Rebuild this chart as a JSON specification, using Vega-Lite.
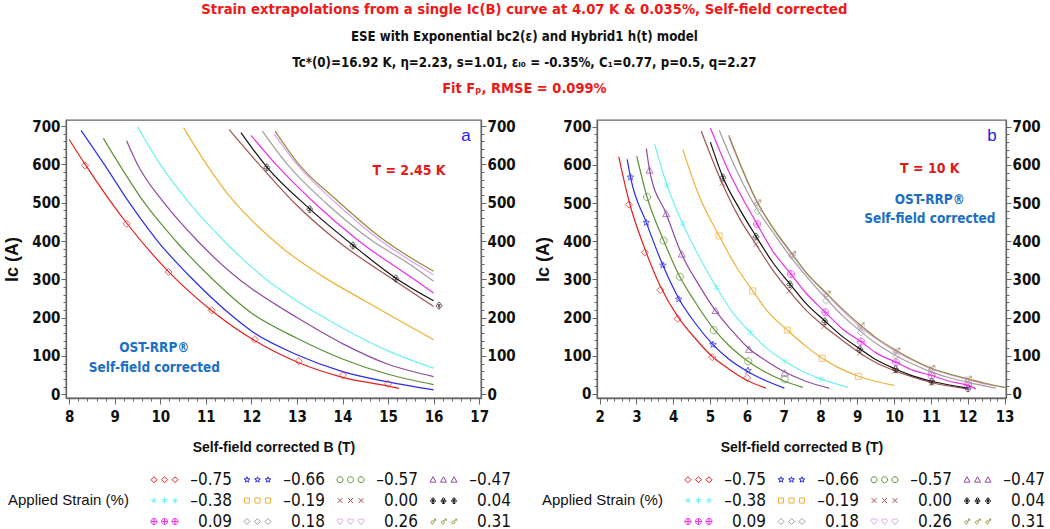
{
  "$schema": "https://vega.github.io/schema/vega-lite/v6.json",
  "background": "white",
  "padding": {"left": 3, "right": 3, "top": 2, "bottom": 0},
  "title": {
    "text": "Strain extrapolations from a single Ic(B) curve at 4.07 K & 0.035%, Self-field corrected",
    "subtitle": ["ESE with Exponential bc2(ε) and Hybrid1 h(t) model", "Tc*(0)=16.92 K, η=2.23, s=1.01, εₗ₀ = -0.35%, C₁=0.77, p=0.5, q=2.27"],
    "color": "#f01818", "subtitleColor": "#111111",
    "font": "'DejaVu Sans Condensed', sans-serif",
    "subtitleFont": "'DejaVu Sans Condensed', sans-serif",
    "fontSize": 14.7, "subtitleFontSize": 13.2, "fontWeight": "bold", "subtitleFontWeight": "bold",
    "anchor": "middle", "frame": "bounds", "subtitlePadding": 14, "subtitleLineHeight": 26, "offset": 12
  },
  "datasets": {
    "leg": [{"strain": "-0.75"},{"strain": "-0.66"},{"strain": "-0.57"},{"strain": "-0.47"},{"strain": "-0.38"},{"strain": "-0.19"},{"strain": "0.00"},{"strain": "0.04"},{"strain": "0.09"},{"strain": "0.18"},{"strain": "0.26"},{"strain": "0.31"}],
    "aL": [
      {"strain":"-0.75","B":8.0,"Ic":665},{"strain":"-0.75","B":8.35,"Ic":600},{"strain":"-0.75","B":9.26,"Ic":447},{"strain":"-0.75","B":10.18,"Ic":320},{"strain":"-0.75","B":11.13,"Ic":218},{"strain":"-0.75","B":12.07,"Ic":140},{"strain":"-0.75","B":13.04,"Ic":82},{"strain":"-0.75","B":14.0,"Ic":44},{"strain":"-0.75","B":15.0,"Ic":21},{"strain":"-0.75","B":15.24,"Ic":15},
      {"strain":"-0.66","B":8.26,"Ic":689},{"strain":"-0.66","B":8.77,"Ic":600},{"strain":"-0.66","B":9.32,"Ic":500},{"strain":"-0.66","B":9.94,"Ic":400},{"strain":"-0.66","B":10.71,"Ic":300},{"strain":"-0.66","B":11.62,"Ic":200},{"strain":"-0.66","B":12,"Ic":165},{"strain":"-0.66","B":13,"Ic":103},{"strain":"-0.66","B":14,"Ic":59},{"strain":"-0.66","B":15,"Ic":32},{"strain":"-0.66","B":16,"Ic":11},
      {"strain":"-0.57","B":8.75,"Ic":668},{"strain":"-0.57","B":9.1,"Ic":600},{"strain":"-0.57","B":9.65,"Ic":500},{"strain":"-0.57","B":10.34,"Ic":400},{"strain":"-0.57","B":11.15,"Ic":300},{"strain":"-0.57","B":12,"Ic":212},{"strain":"-0.57","B":13,"Ic":146},{"strain":"-0.57","B":14,"Ic":92},{"strain":"-0.57","B":15,"Ic":52},{"strain":"-0.57","B":16,"Ic":25},
      {"strain":"-0.47","B":9.26,"Ic":662},{"strain":"-0.47","B":9.5,"Ic":600},{"strain":"-0.47","B":10.08,"Ic":500},{"strain":"-0.47","B":10.82,"Ic":400},{"strain":"-0.47","B":11.73,"Ic":300},{"strain":"-0.47","B":12,"Ic":276},{"strain":"-0.47","B":13,"Ic":200},{"strain":"-0.47","B":14,"Ic":132},{"strain":"-0.47","B":15,"Ic":78},{"strain":"-0.47","B":16,"Ic":46},
      {"strain":"-0.38","B":9.5,"Ic":698},{"strain":"-0.38","B":10.0,"Ic":600},{"strain":"-0.38","B":10.63,"Ic":500},{"strain":"-0.38","B":11.4,"Ic":400},{"strain":"-0.38","B":12.32,"Ic":300},{"strain":"-0.38","B":13,"Ic":243},{"strain":"-0.38","B":14,"Ic":173},{"strain":"-0.38","B":15,"Ic":113},{"strain":"-0.38","B":16,"Ic":68},
      {"strain":"-0.19","B":10.51,"Ic":696},{"strain":"-0.19","B":10.96,"Ic":610},{"strain":"-0.19","B":11.5,"Ic":520},{"strain":"-0.19","B":12,"Ic":455},{"strain":"-0.19","B":12.72,"Ic":378},{"strain":"-0.19","B":13.6,"Ic":305},{"strain":"-0.19","B":14.47,"Ic":245},{"strain":"-0.19","B":15.13,"Ic":200},{"strain":"-0.19","B":16,"Ic":142},
      {"strain":"0.00","B":11.51,"Ic":691},{"strain":"0.00","B":12.17,"Ic":600},{"strain":"0.00","B":12.94,"Ic":500},{"strain":"0.00","B":13.89,"Ic":400},{"strain":"0.00","B":15.1,"Ic":300},{"strain":"0.00","B":16,"Ic":229},
      {"strain":"0.04","B":11.77,"Ic":683},{"strain":"0.04","B":12.34,"Ic":593},{"strain":"0.04","B":13.28,"Ic":484},{"strain":"0.04","B":14.23,"Ic":389},{"strain":"0.04","B":15.17,"Ic":303},{"strain":"0.04","B":16,"Ic":244},
      {"strain":"0.09","B":11.99,"Ic":676},{"strain":"0.09","B":12.54,"Ic":600},{"strain":"0.09","B":13.38,"Ic":500},{"strain":"0.09","B":14.36,"Ic":400},{"strain":"0.09","B":15.57,"Ic":300},{"strain":"0.09","B":16,"Ic":264},
      {"strain":"0.18","B":12.24,"Ic":687},{"strain":"0.18","B":12.79,"Ic":600},{"strain":"0.18","B":13.63,"Ic":500},{"strain":"0.18","B":14.66,"Ic":400},{"strain":"0.18","B":15.4,"Ic":345},{"strain":"0.18","B":16,"Ic":295},
      {"strain":"0.26","B":12.5,"Ic":680},{"strain":"0.26","B":13.0,"Ic":600},{"strain":"0.26","B":13.85,"Ic":500},{"strain":"0.26","B":14.85,"Ic":400},{"strain":"0.26","B":16,"Ic":312},
      {"strain":"0.31","B":12.52,"Ic":687},{"strain":"0.31","B":13.01,"Ic":605},{"strain":"0.31","B":13.89,"Ic":505},{"strain":"0.31","B":14.88,"Ic":405},{"strain":"0.31","B":16,"Ic":321}
    ],
    "aP": [
      {"strain":"-0.75","B":8.35,"Ic":597},{"strain":"-0.75","B":9.26,"Ic":445},{"strain":"-0.75","B":10.18,"Ic":319},{"strain":"-0.75","B":11.13,"Ic":219},{"strain":"-0.75","B":12.07,"Ic":143},{"strain":"-0.75","B":13.04,"Ic":86},{"strain":"-0.75","B":14.01,"Ic":50},{"strain":"-0.75","B":15.0,"Ic":27},
      {"strain":"0.04","B":12.34,"Ic":593},{"strain":"0.04","B":13.28,"Ic":484},{"strain":"0.04","B":14.23,"Ic":389},{"strain":"0.04","B":15.17,"Ic":303},{"strain":"0.04","B":16.12,"Ic":232}
    ],
    "bL": [
      {"strain":"-0.75","B":2.52,"Ic":622},{"strain":"-0.75","B":2.8,"Ic":505},{"strain":"-0.75","B":3.23,"Ic":380},{"strain":"-0.75","B":3.65,"Ic":282},{"strain":"-0.75","B":4.12,"Ic":203},{"strain":"-0.75","B":4.6,"Ic":145},{"strain":"-0.75","B":5.06,"Ic":98},{"strain":"-0.75","B":5.5,"Ic":66},{"strain":"-0.75","B":6.01,"Ic":35},{"strain":"-0.75","B":6.52,"Ic":15},
      {"strain":"-0.66","B":2.75,"Ic":615},{"strain":"-0.66","B":2.84,"Ic":568},{"strain":"-0.66","B":3.27,"Ic":449},{"strain":"-0.66","B":3.72,"Ic":337},{"strain":"-0.66","B":4.15,"Ic":250},{"strain":"-0.66","B":4.6,"Ic":185},{"strain":"-0.66","B":5.08,"Ic":129},{"strain":"-0.66","B":5.5,"Ic":92},{"strain":"-0.66","B":6.03,"Ic":58},{"strain":"-0.66","B":6.5,"Ic":35},{"strain":"-0.66","B":7.02,"Ic":15},
      {"strain":"-0.57","B":3.01,"Ic":623},{"strain":"-0.57","B":3.29,"Ic":516},{"strain":"-0.57","B":3.74,"Ic":402},{"strain":"-0.57","B":4.18,"Ic":307},{"strain":"-0.57","B":4.6,"Ic":240},{"strain":"-0.57","B":5.1,"Ic":170},{"strain":"-0.57","B":5.5,"Ic":128},{"strain":"-0.57","B":6.04,"Ic":85},{"strain":"-0.57","B":6.5,"Ic":57},{"strain":"-0.57","B":7.03,"Ic":33},{"strain":"-0.57","B":7.52,"Ic":17},
      {"strain":"-0.47","B":3.27,"Ic":643},{"strain":"-0.47","B":3.36,"Ic":586},{"strain":"-0.47","B":3.81,"Ic":472},{"strain":"-0.47","B":4.23,"Ic":366},{"strain":"-0.47","B":4.7,"Ic":285},{"strain":"-0.47","B":5.15,"Ic":218},{"strain":"-0.47","B":5.6,"Ic":165},{"strain":"-0.47","B":6.06,"Ic":118},{"strain":"-0.47","B":6.5,"Ic":88},{"strain":"-0.47","B":7.03,"Ic":57},{"strain":"-0.47","B":7.6,"Ic":33},{"strain":"-0.47","B":8.24,"Ic":15},
      {"strain":"-0.38","B":3.49,"Ic":656},{"strain":"-0.38","B":3.83,"Ic":547},{"strain":"-0.38","B":4.26,"Ic":446},{"strain":"-0.38","B":4.7,"Ic":360},{"strain":"-0.38","B":5.18,"Ic":279},{"strain":"-0.38","B":5.6,"Ic":215},{"strain":"-0.38","B":6.1,"Ic":161},{"strain":"-0.38","B":6.5,"Ic":123},{"strain":"-0.38","B":7.04,"Ic":85},{"strain":"-0.38","B":7.5,"Ic":60},{"strain":"-0.38","B":8.01,"Ic":39},{"strain":"-0.38","B":8.74,"Ic":17},
      {"strain":"-0.19","B":4.26,"Ic":641},{"strain":"-0.19","B":4.7,"Ic":520},{"strain":"-0.19","B":5.25,"Ic":414},{"strain":"-0.19","B":5.7,"Ic":335},{"strain":"-0.19","B":6.16,"Ic":270},{"strain":"-0.19","B":6.6,"Ic":212},{"strain":"-0.19","B":7.1,"Ic":167},{"strain":"-0.19","B":7.6,"Ic":125},{"strain":"-0.19","B":8.05,"Ic":93},{"strain":"-0.19","B":8.5,"Ic":68},{"strain":"-0.19","B":9.03,"Ic":46},{"strain":"-0.19","B":10.0,"Ic":22},
      {"strain":"0.00","B":4.76,"Ic":689},{"strain":"0.00","B":5.33,"Ic":552},{"strain":"0.00","B":5.8,"Ic":460},{"strain":"0.00","B":6.25,"Ic":392},{"strain":"0.00","B":6.7,"Ic":325},{"strain":"0.00","B":7.15,"Ic":270},{"strain":"0.00","B":7.6,"Ic":220},{"strain":"0.00","B":8.1,"Ic":177},{"strain":"0.00","B":8.6,"Ic":140},{"strain":"0.00","B":9.07,"Ic":107},{"strain":"0.00","B":9.5,"Ic":82},{"strain":"0.00","B":10.03,"Ic":60},{"strain":"0.00","B":10.5,"Ic":44},{"strain":"0.00","B":11.03,"Ic":29},{"strain":"0.00","B":12.0,"Ic":13},
      {"strain":"0.04","B":5.01,"Ic":660},{"strain":"0.04","B":5.35,"Ic":568},{"strain":"0.04","B":5.8,"Ic":485},{"strain":"0.04","B":6.25,"Ic":413},{"strain":"0.04","B":6.7,"Ic":345},{"strain":"0.04","B":7.17,"Ic":288},{"strain":"0.04","B":7.6,"Ic":238},{"strain":"0.04","B":8.12,"Ic":191},{"strain":"0.04","B":8.6,"Ic":150},{"strain":"0.04","B":9.07,"Ic":118},{"strain":"0.04","B":9.5,"Ic":90},{"strain":"0.04","B":10.04,"Ic":65},{"strain":"0.04","B":10.5,"Ic":47},{"strain":"0.04","B":11.02,"Ic":33},{"strain":"0.04","B":12.01,"Ic":15},
      {"strain":"0.09","B":5.01,"Ic":697},{"strain":"0.09","B":5.5,"Ic":585},{"strain":"0.09","B":6.28,"Ic":445},{"strain":"0.09","B":6.7,"Ic":375},{"strain":"0.09","B":7.2,"Ic":314},{"strain":"0.09","B":7.6,"Ic":265},{"strain":"0.09","B":8.13,"Ic":214},{"strain":"0.09","B":8.6,"Ic":170},{"strain":"0.09","B":9.1,"Ic":137},{"strain":"0.09","B":9.5,"Ic":108},{"strain":"0.09","B":10.05,"Ic":83},{"strain":"0.09","B":10.5,"Ic":62},{"strain":"0.09","B":11.02,"Ic":48},{"strain":"0.09","B":11.5,"Ic":33},{"strain":"0.09","B":12.01,"Ic":22},{"strain":"0.09","B":12.22,"Ic":13},
      {"strain":"0.18","B":5.25,"Ic":691},{"strain":"0.18","B":5.7,"Ic":590},{"strain":"0.18","B":6.29,"Ic":482},{"strain":"0.18","B":6.7,"Ic":425},{"strain":"0.18","B":7.22,"Ic":355},{"strain":"0.18","B":7.6,"Ic":310},{"strain":"0.18","B":8.15,"Ic":250},{"strain":"0.18","B":8.6,"Ic":205},{"strain":"0.18","B":9.1,"Ic":163},{"strain":"0.18","B":9.5,"Ic":133},{"strain":"0.18","B":10.05,"Ic":100},{"strain":"0.18","B":10.5,"Ic":78},{"strain":"0.18","B":11.02,"Ic":57},{"strain":"0.18","B":11.5,"Ic":42},{"strain":"0.18","B":12.01,"Ic":30},{"strain":"0.18","B":12.76,"Ic":15},
      {"strain":"0.26","B":5.51,"Ic":673},{"strain":"0.26","B":6.29,"Ic":500},{"strain":"0.26","B":6.7,"Ic":435},{"strain":"0.26","B":7.23,"Ic":364},{"strain":"0.26","B":7.6,"Ic":318},{"strain":"0.26","B":8.16,"Ic":262},{"strain":"0.26","B":8.6,"Ic":218},{"strain":"0.26","B":9.1,"Ic":174},{"strain":"0.26","B":9.5,"Ic":145},{"strain":"0.26","B":10.05,"Ic":111},{"strain":"0.26","B":10.5,"Ic":88},{"strain":"0.26","B":11.02,"Ic":65},{"strain":"0.26","B":11.5,"Ic":50},{"strain":"0.26","B":12.01,"Ic":37},{"strain":"0.26","B":12.5,"Ic":25},{"strain":"0.26","B":12.99,"Ic":17},
      {"strain":"0.31","B":5.51,"Ic":678},{"strain":"0.31","B":6.29,"Ic":502},{"strain":"0.31","B":6.7,"Ic":437},{"strain":"0.31","B":7.24,"Ic":366},{"strain":"0.31","B":7.6,"Ic":320},{"strain":"0.31","B":8.18,"Ic":262},{"strain":"0.31","B":8.6,"Ic":222},{"strain":"0.31","B":9.1,"Ic":179},{"strain":"0.31","B":9.5,"Ic":148},{"strain":"0.31","B":10.07,"Ic":113},{"strain":"0.31","B":10.5,"Ic":90},{"strain":"0.31","B":11.02,"Ic":67},{"strain":"0.31","B":11.5,"Ic":52},{"strain":"0.31","B":12.01,"Ic":39},{"strain":"0.31","B":12.5,"Ic":27},{"strain":"0.31","B":13.03,"Ic":17}
    ],
    "bP": [
      {"strain":"-0.75","B":2.8,"Ic":496},{"strain":"-0.75","B":3.23,"Ic":371},{"strain":"-0.75","B":3.65,"Ic":272},{"strain":"-0.75","B":4.12,"Ic":197},{"strain":"-0.75","B":5.06,"Ic":96},{"strain":"-0.75","B":6.01,"Ic":42},
      {"strain":"-0.66","B":2.84,"Ic":568},{"strain":"-0.66","B":3.27,"Ic":449},{"strain":"-0.66","B":3.72,"Ic":337},{"strain":"-0.66","B":4.15,"Ic":248},{"strain":"-0.66","B":5.08,"Ic":129},{"strain":"-0.66","B":6.03,"Ic":61},
      {"strain":"-0.57","B":3.29,"Ic":516},{"strain":"-0.57","B":3.74,"Ic":402},{"strain":"-0.57","B":4.18,"Ic":307},{"strain":"-0.57","B":5.1,"Ic":167},{"strain":"-0.57","B":6.04,"Ic":85},{"strain":"-0.57","B":7.03,"Ic":38},
      {"strain":"-0.47","B":3.36,"Ic":586},{"strain":"-0.47","B":3.81,"Ic":472},{"strain":"-0.47","B":4.23,"Ic":366},{"strain":"-0.47","B":5.15,"Ic":218},{"strain":"-0.47","B":6.06,"Ic":116},{"strain":"-0.47","B":7.03,"Ic":54},
      {"strain":"-0.38","B":3.83,"Ic":547},{"strain":"-0.38","B":4.26,"Ic":446},{"strain":"-0.38","B":5.18,"Ic":279},{"strain":"-0.38","B":6.1,"Ic":161},{"strain":"-0.38","B":7.04,"Ic":85},{"strain":"-0.38","B":8.01,"Ic":39},
      {"strain":"-0.19","B":5.25,"Ic":414},{"strain":"-0.19","B":6.16,"Ic":270},{"strain":"-0.19","B":7.1,"Ic":167},{"strain":"-0.19","B":8.05,"Ic":93},{"strain":"-0.19","B":9.03,"Ic":46},
      {"strain":"0.00","B":5.33,"Ic":552},{"strain":"0.00","B":6.25,"Ic":392},{"strain":"0.00","B":7.15,"Ic":270},{"strain":"0.00","B":8.1,"Ic":177},{"strain":"0.00","B":9.07,"Ic":107},{"strain":"0.00","B":10.03,"Ic":60},{"strain":"0.00","B":11.03,"Ic":29},
      {"strain":"0.04","B":5.35,"Ic":568},{"strain":"0.04","B":6.25,"Ic":413},{"strain":"0.04","B":7.17,"Ic":288},{"strain":"0.04","B":8.12,"Ic":191},{"strain":"0.04","B":9.07,"Ic":118},{"strain":"0.04","B":10.04,"Ic":65},{"strain":"0.04","B":11.02,"Ic":33},{"strain":"0.04","B":12.01,"Ic":15},
      {"strain":"0.09","B":6.28,"Ic":445},{"strain":"0.09","B":7.2,"Ic":314},{"strain":"0.09","B":8.13,"Ic":214},{"strain":"0.09","B":9.1,"Ic":137},{"strain":"0.09","B":10.05,"Ic":83},{"strain":"0.09","B":11.02,"Ic":48},{"strain":"0.09","B":12.01,"Ic":22},
      {"strain":"0.18","B":6.29,"Ic":479},{"strain":"0.18","B":7.22,"Ic":362},{"strain":"0.18","B":8.15,"Ic":244},{"strain":"0.18","B":9.1,"Ic":161},{"strain":"0.18","B":10.05,"Ic":100},{"strain":"0.18","B":11.02,"Ic":57},{"strain":"0.18","B":12.01,"Ic":31},
      {"strain":"0.26","B":6.29,"Ic":500},{"strain":"0.26","B":7.23,"Ic":364},{"strain":"0.26","B":8.16,"Ic":262},{"strain":"0.26","B":9.1,"Ic":174},{"strain":"0.26","B":10.05,"Ic":111},{"strain":"0.26","B":11.02,"Ic":65},{"strain":"0.26","B":12.01,"Ic":37},
      {"strain":"0.31","B":6.29,"Ic":501},{"strain":"0.31","B":7.24,"Ic":366},{"strain":"0.31","B":8.18,"Ic":262},{"strain":"0.31","B":9.1,"Ic":179},{"strain":"0.31","B":10.07,"Ic":113},{"strain":"0.31","B":11.02,"Ic":67},{"strain":"0.31","B":12.01,"Ic":39}
    ]
  },
  "vconcat": [
    {
      "title": {"text": "Fit Fₚ,  RMSE = 0.099%", "color": "#f01818", "font": "'DejaVu Sans Condensed', sans-serif", "fontSize": 14.5, "fontWeight": "bold", "anchor": "middle", "offset": 22},
      "spacing": 18,
      "resolve": {"scale": {"color": "independent", "shape": "independent"}},
      "hconcat": [
        {
          "width": 415, "height": 278,
          "resolve": {"scale": {"color": "independent", "shape": "independent"}, "axis": {"y": "independent"}},
          "layer": [
            {
              "data": {"name": "aL"},
              "mark": {"type": "line", "interpolate": "monotone", "strokeWidth": 1.2},
              "encoding": {
                "x": {"field": "B", "type": "quantitative", "scale": {"domain": [7.93, 17.04], "nice": false, "zero": false},
                  "axis": {"title": "Self-field corrected B (T)", "values": [8,8.2,8.4,8.6,8.8,9,9.2,9.4,9.6,9.8,10,10.2,10.4,10.6,10.8,11,11.2,11.4,11.6,11.8,12,12.2,12.4,12.6,12.8,13,13.2,13.4,13.6,13.8,14,14.2,14.4,14.6,14.8,15,15.2,15.4,15.6,15.8,16,16.2,16.4,16.6,16.8,17], "labelExpr": "abs(datum.value - round(datum.value)) < 0.01 ? format(datum.value, 'd') : ''", "tickSize": {"condition": {"test": "abs(datum.value - round(datum.value)) < 0.01", "value": 6}, "value": 3}}},
                "y": {"field": "Ic", "type": "quantitative", "scale": {"domain": [-10, 716], "nice": false, "zero": false},
                  "axis": {"title": "Ic (A)", "orient": "left", "values": [0,20,40,60,80,100,120,140,160,180,200,220,240,260,280,300,320,340,360,380,400,420,440,460,480,500,520,540,560,580,600,620,640,660,680,700], "labelExpr": "datum.value % 100 == 0 ? format(datum.value, 'd') : ''", "tickSize": {"condition": {"test": "datum.value % 100 == 0", "value": 5}, "value": 3}}},
                "color": {"field": "strain", "type": "nominal", "legend": null,
                  "scale": {"domain": ["-0.75","-0.66","-0.57","-0.47","-0.38","-0.19","0.00","0.04","0.09","0.18","0.26","0.31"], "range": ["#e41f1f","#2a2ae8","#5e9134","#8f4aa0","#70f0f0","#f0b038","#a0524f","#111111","#e830e8","#a0a0a0","#e0a0f0","#8f8f3a"]}}
              }
            },
            {
              "data": {"name": "aP"},
              "mark": {"type": "point", "filled": false, "size": 50, "strokeWidth": 1},
              "encoding": {
                "x": {"field": "B", "type": "quantitative", "scale": {"domain": [7.93, 17.04], "nice": false, "zero": false},
                  "axis": {"title": "Self-field corrected B (T)", "values": [8,8.2,8.4,8.6,8.8,9,9.2,9.4,9.6,9.8,10,10.2,10.4,10.6,10.8,11,11.2,11.4,11.6,11.8,12,12.2,12.4,12.6,12.8,13,13.2,13.4,13.6,13.8,14,14.2,14.4,14.6,14.8,15,15.2,15.4,15.6,15.8,16,16.2,16.4,16.6,16.8,17], "labelExpr": "abs(datum.value - round(datum.value)) < 0.01 ? format(datum.value, 'd') : ''", "tickSize": {"condition": {"test": "abs(datum.value - round(datum.value)) < 0.01", "value": 6}, "value": 3}}},
                "y": {"field": "Ic", "type": "quantitative", "scale": {"domain": [-10, 716], "nice": false, "zero": false},
                  "axis": {"title": null, "orient": "right", "values": [0,20,40,60,80,100,120,140,160,180,200,220,240,260,280,300,320,340,360,380,400,420,440,460,480,500,520,540,560,580,600,620,640,660,680,700], "labelExpr": "datum.value % 100 == 0 ? format(datum.value, 'd') : ''", "tickSize": {"condition": {"test": "datum.value % 100 == 0", "value": 5}, "value": 3}}},
                "color": {"field": "strain", "type": "nominal", "legend": null,
                  "scale": {"domain": ["-0.75","-0.66","-0.57","-0.47","-0.38","-0.19","0.00","0.04","0.09","0.18","0.26","0.31"], "range": ["#e41f1f","#2a2ae8","#5e9134","#8f4aa0","#70f0f0","#f0b038","#a0524f","#111111","#e830e8","#a0a0a0","#e0a0f0","#8f8f3a"]}},
                "shape": {"field": "strain", "type": "nominal", "legend": null,
                  "scale": {"domain": ["-0.75","-0.66","-0.57","-0.47","-0.38","-0.19","0.00","0.04","0.09","0.18","0.26","0.31"], "range": [
                    "M0,-1L1,0L0,1L-1,0Z",
                    "M0,-1l0.235,0.676l0.716,0.015l-0.571,0.433l0.208,0.685l-0.588,-0.409l-0.588,0.409l0.208,-0.685l-0.571,-0.433l0.716,-0.015z",
                    "M-1,0a1,1 0 1,0 2,0a1,1 0 1,0 -2,0",
                    "M0,-1l1,1.8l-2,0z",
                    "M0,-1l0,2m-0.87,-1.5l1.74,1m-1.74,0l1.74,-1",
                    "M-0.85,-0.85h1.7v1.7h-1.7z",
                    "M-0.8,-0.8l1.6,1.6m-1.6,0l1.6,-1.6",
                    "M-0.38,-0.5a0.38,0.38 0 1,0 0.76,0a0.38,0.38 0 1,0 -0.76,0m-0.45,0.65a0.38,0.38 0 1,0 0.76,0a0.38,0.38 0 1,0 -0.76,0m0.9,0a0.38,0.38 0 1,0 0.76,0a0.38,0.38 0 1,0 -0.76,0m-0.07,-0.05l0,0.9m-0.4,0l0.8,0",
                    "M-1,0a1,1 0 1,0 2,0a1,1 0 1,0 -2,0l2,0m-1,-1l0,2",
                    "M0,-1L1,0L0,1L-1,0Z",
                    "M0,1l-0.9,-1.1a0.5,0.5 0 0,1 0.9,-0.5a0.5,0.5 0 0,1 0.9,0.5z",
                    "M-0.7,0.3a0.5,0.5 0 1,0 1,0a0.5,0.5 0 1,0 -1,0m0.85,-0.35l0.75,-0.75m-0.55,0l0.55,0l0,0.55"]}}
              }
            },
            {
              "data": {"name": "leg"},
              "mark": {"type": "point", "filled": false, "opacity": 0, "size": 36, "strokeWidth": 1},
              "encoding": {
                "color": {"field": "strain", "type": "nominal", "title": "Applied  Strain  (%)", "legend": {"labelExpr": "replace(datum.label, '-', '–')", "orient": "none", "legendX": -58, "legendY": 351},
                  "scale": {"domain": ["-0.75","-0.66","-0.57","-0.47","-0.38","-0.19","0.00","0.04","0.09","0.18","0.26","0.31"], "range": ["#e41f1f","#2a2ae8","#5e9134","#8f4aa0","#70f0f0","#f0b038","#a0524f","#111111","#e830e8","#a0a0a0","#e0a0f0","#8f8f3a"]}},
                "shape": {"field": "strain", "type": "nominal", "title": "Applied  Strain  (%)", "legend": {"labelExpr": "replace(datum.label, '-', '–')", "orient": "none", "legendX": -58, "legendY": 351},
                  "scale": {"domain": ["-0.75","-0.66","-0.57","-0.47","-0.38","-0.19","0.00","0.04","0.09","0.18","0.26","0.31"], "range": [
                    "M-3.5,-1l1,1l-1,1l-1,-1zM0,-1l1,1l-1,1l-1,-1zM3.5,-1l1,1l-1,1l-1,-1z",
                    "M-3.5,-1l0.235,0.676l0.716,0.015l-0.571,0.433l0.208,0.685l-0.588,-0.409l-0.588,0.409l0.208,-0.685l-0.571,-0.433l0.716,-0.015zM0,-1l0.235,0.676l0.716,0.015l-0.571,0.433l0.208,0.685l-0.588,-0.409l-0.588,0.409l0.208,-0.685l-0.571,-0.433l0.716,-0.015zM3.5,-1l0.235,0.676l0.716,0.015l-0.571,0.433l0.208,0.685l-0.588,-0.409l-0.588,0.409l0.208,-0.685l-0.571,-0.433l0.716,-0.015z",
                    "M-4.5,0a1,1 0 1,0 2,0a1,1 0 1,0 -2,0M-1,0a1,1 0 1,0 2,0a1,1 0 1,0 -2,0M2.5,0a1,1 0 1,0 2,0a1,1 0 1,0 -2,0",
                    "M-3.5,-1l1,1.8l-2,0zM0,-1l1,1.8l-2,0zM3.5,-1l1,1.8l-2,0z",
                    "M-3.5,-1l0,2m-0.87,-1.5l1.74,1m-1.74,0l1.74,-1M0,-1l0,2m-0.87,-1.5l1.74,1m-1.74,0l1.74,-1M3.5,-1l0,2m-0.87,-1.5l1.74,1m-1.74,0l1.74,-1",
                    "M-4.35,-0.85h1.7v1.7h-1.7zM-0.85,-0.85h1.7v1.7h-1.7zM2.65,-0.85h1.7v1.7h-1.7z",
                    "M-4.3,-0.8l1.6,1.6m-1.6,0l1.6,-1.6M-0.8,-0.8l1.6,1.6m-1.6,0l1.6,-1.6M2.7,-0.8l1.6,1.6m-1.6,0l1.6,-1.6",
                    "M-3.88,-0.5a0.38,0.38 0 1,0 0.76,0a0.38,0.38 0 1,0 -0.76,0m-0.45,0.65a0.38,0.38 0 1,0 0.76,0a0.38,0.38 0 1,0 -0.76,0m0.9,0a0.38,0.38 0 1,0 0.76,0a0.38,0.38 0 1,0 -0.76,0m-0.07,-0.05l0,0.9m-0.4,0l0.8,0M-0.38,-0.5a0.38,0.38 0 1,0 0.76,0a0.38,0.38 0 1,0 -0.76,0m-0.45,0.65a0.38,0.38 0 1,0 0.76,0a0.38,0.38 0 1,0 -0.76,0m0.9,0a0.38,0.38 0 1,0 0.76,0a0.38,0.38 0 1,0 -0.76,0m-0.07,-0.05l0,0.9m-0.4,0l0.8,0M3.12,-0.5a0.38,0.38 0 1,0 0.76,0a0.38,0.38 0 1,0 -0.76,0m-0.45,0.65a0.38,0.38 0 1,0 0.76,0a0.38,0.38 0 1,0 -0.76,0m0.9,0a0.38,0.38 0 1,0 0.76,0a0.38,0.38 0 1,0 -0.76,0m-0.07,-0.05l0,0.9m-0.4,0l0.8,0",
                    "M-4.5,0a1,1 0 1,0 2,0a1,1 0 1,0 -2,0l2,0m-1,-1l0,2M-1,0a1,1 0 1,0 2,0a1,1 0 1,0 -2,0l2,0m-1,-1l0,2M2.5,0a1,1 0 1,0 2,0a1,1 0 1,0 -2,0l2,0m-1,-1l0,2",
                    "M-3.5,-1l1,1l-1,1l-1,-1zM0,-1l1,1l-1,1l-1,-1zM3.5,-1l1,1l-1,1l-1,-1z",
                    "M-3.5,1l-0.9,-1.1a0.5,0.5 0 0,1 0.9,-0.5a0.5,0.5 0 0,1 0.9,0.5zM0,1l-0.9,-1.1a0.5,0.5 0 0,1 0.9,-0.5a0.5,0.5 0 0,1 0.9,0.5zM3.5,1l-0.9,-1.1a0.5,0.5 0 0,1 0.9,-0.5a0.5,0.5 0 0,1 0.9,0.5z",
                    "M-4.2,0.3a0.5,0.5 0 1,0 1,0a0.5,0.5 0 1,0 -1,0m0.85,-0.35l0.75,-0.75m-0.55,0l0.55,0l0,0.55M-0.7,0.3a0.5,0.5 0 1,0 1,0a0.5,0.5 0 1,0 -1,0m0.85,-0.35l0.75,-0.75m-0.55,0l0.55,0l0,0.55M2.8,0.3a0.5,0.5 0 1,0 1,0a0.5,0.5 0 1,0 -1,0m0.85,-0.35l0.75,-0.75m-0.55,0l0.55,0l0,0.55"]}}
              }
            },
            {
              "data": {"values": [{}]},
              "mark": {"type": "text", "fontSize": 17, "color": "#2222ee", "font": "'Liberation Sans', sans-serif"},
              "encoding": {
                "x": {"datum": 16.71, "type": "quantitative", "scale": {"domain": [7.93, 17.04], "nice": false, "zero": false},
                  "axis": {"title": "Self-field corrected B (T)", "values": [8,8.2,8.4,8.6,8.8,9,9.2,9.4,9.6,9.8,10,10.2,10.4,10.6,10.8,11,11.2,11.4,11.6,11.8,12,12.2,12.4,12.6,12.8,13,13.2,13.4,13.6,13.8,14,14.2,14.4,14.6,14.8,15,15.2,15.4,15.6,15.8,16,16.2,16.4,16.6,16.8,17], "labelExpr": "abs(datum.value - round(datum.value)) < 0.01 ? format(datum.value, 'd') : ''", "tickSize": {"condition": {"test": "abs(datum.value - round(datum.value)) < 0.01", "value": 6}, "value": 3}}},
                "y": {"datum": 674, "type": "quantitative", "axis": null}, "text": {"value": "a"}}
            },
            {
              "data": {"values": [{}]},
              "mark": {"type": "text", "fontSize": 14, "fontWeight": "bold", "color": "#e41818", "font": "'DejaVu Sans Condensed', sans-serif"},
              "encoding": {
                "x": {"datum": 15.46, "type": "quantitative", "scale": {"domain": [7.93, 17.04], "nice": false, "zero": false},
                  "axis": {"title": "Self-field corrected B (T)", "values": [8,8.2,8.4,8.6,8.8,9,9.2,9.4,9.6,9.8,10,10.2,10.4,10.6,10.8,11,11.2,11.4,11.6,11.8,12,12.2,12.4,12.6,12.8,13,13.2,13.4,13.6,13.8,14,14.2,14.4,14.6,14.8,15,15.2,15.4,15.6,15.8,16,16.2,16.4,16.6,16.8,17], "labelExpr": "abs(datum.value - round(datum.value)) < 0.01 ? format(datum.value, 'd') : ''", "tickSize": {"condition": {"test": "abs(datum.value - round(datum.value)) < 0.01", "value": 6}, "value": 3}}},
                "y": {"datum": 582, "type": "quantitative", "axis": null}, "text": {"value": "T = 2.45 K"}}
            },
            {
              "data": {"values": [{}]},
              "mark": {"type": "text", "fontSize": 13.5, "fontWeight": "bold", "color": "#1a6fc4", "font": "'DejaVu Sans Condensed', sans-serif"},
              "encoding": {
                "x": {"datum": 9.87, "type": "quantitative", "scale": {"domain": [7.93, 17.04], "nice": false, "zero": false},
                  "axis": {"title": "Self-field corrected B (T)", "values": [8,8.2,8.4,8.6,8.8,9,9.2,9.4,9.6,9.8,10,10.2,10.4,10.6,10.8,11,11.2,11.4,11.6,11.8,12,12.2,12.4,12.6,12.8,13,13.2,13.4,13.6,13.8,14,14.2,14.4,14.6,14.8,15,15.2,15.4,15.6,15.8,16,16.2,16.4,16.6,16.8,17], "labelExpr": "abs(datum.value - round(datum.value)) < 0.01 ? format(datum.value, 'd') : ''", "tickSize": {"condition": {"test": "abs(datum.value - round(datum.value)) < 0.01", "value": 6}, "value": 3}}},
                "y": {"datum": 120, "type": "quantitative", "axis": null}, "text": {"value": "OST-RRP®"}}
            },
            {
              "data": {"values": [{}]},
              "mark": {"type": "text", "fontSize": 13.5, "fontWeight": "bold", "color": "#1a6fc4", "font": "'DejaVu Sans Condensed', sans-serif"},
              "encoding": {
                "x": {"datum": 9.87, "type": "quantitative", "scale": {"domain": [7.93, 17.04], "nice": false, "zero": false},
                  "axis": {"title": "Self-field corrected B (T)", "values": [8,8.2,8.4,8.6,8.8,9,9.2,9.4,9.6,9.8,10,10.2,10.4,10.6,10.8,11,11.2,11.4,11.6,11.8,12,12.2,12.4,12.6,12.8,13,13.2,13.4,13.6,13.8,14,14.2,14.4,14.6,14.8,15,15.2,15.4,15.6,15.8,16,16.2,16.4,16.6,16.8,17], "labelExpr": "abs(datum.value - round(datum.value)) < 0.01 ? format(datum.value, 'd') : ''", "tickSize": {"condition": {"test": "abs(datum.value - round(datum.value)) < 0.01", "value": 6}, "value": 3}}},
                "y": {"datum": 68, "type": "quantitative", "axis": null}, "text": {"value": "Self-field corrected"}}
            }
          ]
        },
        {
          "width": 409, "height": 278,
          "resolve": {"scale": {"color": "independent", "shape": "independent"}, "axis": {"y": "independent"}},
          "layer": [
            {
              "data": {"name": "bL"},
              "mark": {"type": "line", "interpolate": "monotone", "strokeWidth": 1.2},
              "encoding": {
                "x": {"field": "B", "type": "quantitative", "scale": {"domain": [1.93, 13.04], "nice": false, "zero": false},
                  "axis": {"title": "Self-field corrected B (T)", "values": [2,2.2,2.4,2.6,2.8,3,3.2,3.4,3.6,3.8,4,4.2,4.4,4.6,4.8,5,5.2,5.4,5.6,5.8,6,6.2,6.4,6.6,6.8,7,7.2,7.4,7.6,7.8,8,8.2,8.4,8.6,8.8,9,9.2,9.4,9.6,9.8,10,10.2,10.4,10.6,10.8,11,11.2,11.4,11.6,11.8,12,12.2,12.4,12.6,12.8,13], "labelExpr": "abs(datum.value - round(datum.value)) < 0.01 ? format(datum.value, 'd') : ''", "tickSize": {"condition": {"test": "abs(datum.value - round(datum.value)) < 0.01", "value": 6}, "value": 3}}},
                "y": {"field": "Ic", "type": "quantitative", "scale": {"domain": [-11, 718], "nice": false, "zero": false},
                  "axis": {"title": "Ic (A)", "orient": "left", "values": [0,20,40,60,80,100,120,140,160,180,200,220,240,260,280,300,320,340,360,380,400,420,440,460,480,500,520,540,560,580,600,620,640,660,680,700], "labelExpr": "datum.value % 100 == 0 ? format(datum.value, 'd') : ''", "tickSize": {"condition": {"test": "datum.value % 100 == 0", "value": 5}, "value": 3}}},
                "color": {"field": "strain", "type": "nominal", "legend": null,
                  "scale": {"domain": ["-0.75","-0.66","-0.57","-0.47","-0.38","-0.19","0.00","0.04","0.09","0.18","0.26","0.31"], "range": ["#e41f1f","#2a2ae8","#5e9134","#8f4aa0","#70f0f0","#f0b038","#a0524f","#111111","#e830e8","#a0a0a0","#e0a0f0","#8f8f3a"]}}
              }
            },
            {
              "data": {"name": "bP"},
              "mark": {"type": "point", "filled": false, "size": 50, "strokeWidth": 1},
              "encoding": {
                "x": {"field": "B", "type": "quantitative", "scale": {"domain": [1.93, 13.04], "nice": false, "zero": false},
                  "axis": {"title": "Self-field corrected B (T)", "values": [2,2.2,2.4,2.6,2.8,3,3.2,3.4,3.6,3.8,4,4.2,4.4,4.6,4.8,5,5.2,5.4,5.6,5.8,6,6.2,6.4,6.6,6.8,7,7.2,7.4,7.6,7.8,8,8.2,8.4,8.6,8.8,9,9.2,9.4,9.6,9.8,10,10.2,10.4,10.6,10.8,11,11.2,11.4,11.6,11.8,12,12.2,12.4,12.6,12.8,13], "labelExpr": "abs(datum.value - round(datum.value)) < 0.01 ? format(datum.value, 'd') : ''", "tickSize": {"condition": {"test": "abs(datum.value - round(datum.value)) < 0.01", "value": 6}, "value": 3}}},
                "y": {"field": "Ic", "type": "quantitative", "scale": {"domain": [-11, 718], "nice": false, "zero": false},
                  "axis": {"title": null, "orient": "right", "values": [0,20,40,60,80,100,120,140,160,180,200,220,240,260,280,300,320,340,360,380,400,420,440,460,480,500,520,540,560,580,600,620,640,660,680,700], "labelExpr": "datum.value % 100 == 0 ? format(datum.value, 'd') : ''", "tickSize": {"condition": {"test": "datum.value % 100 == 0", "value": 5}, "value": 3}}},
                "color": {"field": "strain", "type": "nominal", "legend": null,
                  "scale": {"domain": ["-0.75","-0.66","-0.57","-0.47","-0.38","-0.19","0.00","0.04","0.09","0.18","0.26","0.31"], "range": ["#e41f1f","#2a2ae8","#5e9134","#8f4aa0","#70f0f0","#f0b038","#a0524f","#111111","#e830e8","#a0a0a0","#e0a0f0","#8f8f3a"]}},
                "shape": {"field": "strain", "type": "nominal", "legend": null,
                  "scale": {"domain": ["-0.75","-0.66","-0.57","-0.47","-0.38","-0.19","0.00","0.04","0.09","0.18","0.26","0.31"], "range": [
                    "M0,-1L1,0L0,1L-1,0Z",
                    "M0,-1l0.235,0.676l0.716,0.015l-0.571,0.433l0.208,0.685l-0.588,-0.409l-0.588,0.409l0.208,-0.685l-0.571,-0.433l0.716,-0.015z",
                    "M-1,0a1,1 0 1,0 2,0a1,1 0 1,0 -2,0",
                    "M0,-1l1,1.8l-2,0z",
                    "M0,-1l0,2m-0.87,-1.5l1.74,1m-1.74,0l1.74,-1",
                    "M-0.85,-0.85h1.7v1.7h-1.7z",
                    "M-0.8,-0.8l1.6,1.6m-1.6,0l1.6,-1.6",
                    "M-0.38,-0.5a0.38,0.38 0 1,0 0.76,0a0.38,0.38 0 1,0 -0.76,0m-0.45,0.65a0.38,0.38 0 1,0 0.76,0a0.38,0.38 0 1,0 -0.76,0m0.9,0a0.38,0.38 0 1,0 0.76,0a0.38,0.38 0 1,0 -0.76,0m-0.07,-0.05l0,0.9m-0.4,0l0.8,0",
                    "M-1,0a1,1 0 1,0 2,0a1,1 0 1,0 -2,0l2,0m-1,-1l0,2",
                    "M0,-1L1,0L0,1L-1,0Z",
                    "M0,1l-0.9,-1.1a0.5,0.5 0 0,1 0.9,-0.5a0.5,0.5 0 0,1 0.9,0.5z",
                    "M-0.7,0.3a0.5,0.5 0 1,0 1,0a0.5,0.5 0 1,0 -1,0m0.85,-0.35l0.75,-0.75m-0.55,0l0.55,0l0,0.55"]}}
              }
            },
            {
              "data": {"name": "leg"},
              "mark": {"type": "point", "filled": false, "opacity": 0, "size": 36, "strokeWidth": 1},
              "encoding": {
                "color": {"field": "strain", "type": "nominal", "title": "Applied  Strain  (%)", "legend": {"labelExpr": "replace(datum.label, '-', '–')", "orient": "none", "legendX": -55, "legendY": 351},
                  "scale": {"domain": ["-0.75","-0.66","-0.57","-0.47","-0.38","-0.19","0.00","0.04","0.09","0.18","0.26","0.31"], "range": ["#e41f1f","#2a2ae8","#5e9134","#8f4aa0","#70f0f0","#f0b038","#a0524f","#111111","#e830e8","#a0a0a0","#e0a0f0","#8f8f3a"]}},
                "shape": {"field": "strain", "type": "nominal", "title": "Applied  Strain  (%)", "legend": {"labelExpr": "replace(datum.label, '-', '–')", "orient": "none", "legendX": -55, "legendY": 351},
                  "scale": {"domain": ["-0.75","-0.66","-0.57","-0.47","-0.38","-0.19","0.00","0.04","0.09","0.18","0.26","0.31"], "range": [
                    "M-3.5,-1l1,1l-1,1l-1,-1zM0,-1l1,1l-1,1l-1,-1zM3.5,-1l1,1l-1,1l-1,-1z",
                    "M-3.5,-1l0.235,0.676l0.716,0.015l-0.571,0.433l0.208,0.685l-0.588,-0.409l-0.588,0.409l0.208,-0.685l-0.571,-0.433l0.716,-0.015zM0,-1l0.235,0.676l0.716,0.015l-0.571,0.433l0.208,0.685l-0.588,-0.409l-0.588,0.409l0.208,-0.685l-0.571,-0.433l0.716,-0.015zM3.5,-1l0.235,0.676l0.716,0.015l-0.571,0.433l0.208,0.685l-0.588,-0.409l-0.588,0.409l0.208,-0.685l-0.571,-0.433l0.716,-0.015z",
                    "M-4.5,0a1,1 0 1,0 2,0a1,1 0 1,0 -2,0M-1,0a1,1 0 1,0 2,0a1,1 0 1,0 -2,0M2.5,0a1,1 0 1,0 2,0a1,1 0 1,0 -2,0",
                    "M-3.5,-1l1,1.8l-2,0zM0,-1l1,1.8l-2,0zM3.5,-1l1,1.8l-2,0z",
                    "M-3.5,-1l0,2m-0.87,-1.5l1.74,1m-1.74,0l1.74,-1M0,-1l0,2m-0.87,-1.5l1.74,1m-1.74,0l1.74,-1M3.5,-1l0,2m-0.87,-1.5l1.74,1m-1.74,0l1.74,-1",
                    "M-4.35,-0.85h1.7v1.7h-1.7zM-0.85,-0.85h1.7v1.7h-1.7zM2.65,-0.85h1.7v1.7h-1.7z",
                    "M-4.3,-0.8l1.6,1.6m-1.6,0l1.6,-1.6M-0.8,-0.8l1.6,1.6m-1.6,0l1.6,-1.6M2.7,-0.8l1.6,1.6m-1.6,0l1.6,-1.6",
                    "M-3.88,-0.5a0.38,0.38 0 1,0 0.76,0a0.38,0.38 0 1,0 -0.76,0m-0.45,0.65a0.38,0.38 0 1,0 0.76,0a0.38,0.38 0 1,0 -0.76,0m0.9,0a0.38,0.38 0 1,0 0.76,0a0.38,0.38 0 1,0 -0.76,0m-0.07,-0.05l0,0.9m-0.4,0l0.8,0M-0.38,-0.5a0.38,0.38 0 1,0 0.76,0a0.38,0.38 0 1,0 -0.76,0m-0.45,0.65a0.38,0.38 0 1,0 0.76,0a0.38,0.38 0 1,0 -0.76,0m0.9,0a0.38,0.38 0 1,0 0.76,0a0.38,0.38 0 1,0 -0.76,0m-0.07,-0.05l0,0.9m-0.4,0l0.8,0M3.12,-0.5a0.38,0.38 0 1,0 0.76,0a0.38,0.38 0 1,0 -0.76,0m-0.45,0.65a0.38,0.38 0 1,0 0.76,0a0.38,0.38 0 1,0 -0.76,0m0.9,0a0.38,0.38 0 1,0 0.76,0a0.38,0.38 0 1,0 -0.76,0m-0.07,-0.05l0,0.9m-0.4,0l0.8,0",
                    "M-4.5,0a1,1 0 1,0 2,0a1,1 0 1,0 -2,0l2,0m-1,-1l0,2M-1,0a1,1 0 1,0 2,0a1,1 0 1,0 -2,0l2,0m-1,-1l0,2M2.5,0a1,1 0 1,0 2,0a1,1 0 1,0 -2,0l2,0m-1,-1l0,2",
                    "M-3.5,-1l1,1l-1,1l-1,-1zM0,-1l1,1l-1,1l-1,-1zM3.5,-1l1,1l-1,1l-1,-1z",
                    "M-3.5,1l-0.9,-1.1a0.5,0.5 0 0,1 0.9,-0.5a0.5,0.5 0 0,1 0.9,0.5zM0,1l-0.9,-1.1a0.5,0.5 0 0,1 0.9,-0.5a0.5,0.5 0 0,1 0.9,0.5zM3.5,1l-0.9,-1.1a0.5,0.5 0 0,1 0.9,-0.5a0.5,0.5 0 0,1 0.9,0.5z",
                    "M-4.2,0.3a0.5,0.5 0 1,0 1,0a0.5,0.5 0 1,0 -1,0m0.85,-0.35l0.75,-0.75m-0.55,0l0.55,0l0,0.55M-0.7,0.3a0.5,0.5 0 1,0 1,0a0.5,0.5 0 1,0 -1,0m0.85,-0.35l0.75,-0.75m-0.55,0l0.55,0l0,0.55M2.8,0.3a0.5,0.5 0 1,0 1,0a0.5,0.5 0 1,0 -1,0m0.85,-0.35l0.75,-0.75m-0.55,0l0.55,0l0,0.55"]}}
              }
            },
            {
              "data": {"values": [{}]},
              "mark": {"type": "text", "fontSize": 17, "color": "#2222ee", "font": "'Liberation Sans', sans-serif"},
              "encoding": {
                "x": {"datum": 12.66, "type": "quantitative", "scale": {"domain": [1.93, 13.04], "nice": false, "zero": false},
                  "axis": {"title": "Self-field corrected B (T)", "values": [2,2.2,2.4,2.6,2.8,3,3.2,3.4,3.6,3.8,4,4.2,4.4,4.6,4.8,5,5.2,5.4,5.6,5.8,6,6.2,6.4,6.6,6.8,7,7.2,7.4,7.6,7.8,8,8.2,8.4,8.6,8.8,9,9.2,9.4,9.6,9.8,10,10.2,10.4,10.6,10.8,11,11.2,11.4,11.6,11.8,12,12.2,12.4,12.6,12.8,13], "labelExpr": "abs(datum.value - round(datum.value)) < 0.01 ? format(datum.value, 'd') : ''", "tickSize": {"condition": {"test": "abs(datum.value - round(datum.value)) < 0.01", "value": 6}, "value": 3}}},
                "y": {"datum": 676, "type": "quantitative", "axis": null}, "text": {"value": "b"}}
            },
            {
              "data": {"values": [{}]},
              "mark": {"type": "text", "fontSize": 14, "fontWeight": "bold", "color": "#e41818", "font": "'DejaVu Sans Condensed', sans-serif"},
              "encoding": {
                "x": {"datum": 10.97, "type": "quantitative", "scale": {"domain": [1.93, 13.04], "nice": false, "zero": false},
                  "axis": {"title": "Self-field corrected B (T)", "values": [2,2.2,2.4,2.6,2.8,3,3.2,3.4,3.6,3.8,4,4.2,4.4,4.6,4.8,5,5.2,5.4,5.6,5.8,6,6.2,6.4,6.6,6.8,7,7.2,7.4,7.6,7.8,8,8.2,8.4,8.6,8.8,9,9.2,9.4,9.6,9.8,10,10.2,10.4,10.6,10.8,11,11.2,11.4,11.6,11.8,12,12.2,12.4,12.6,12.8,13], "labelExpr": "abs(datum.value - round(datum.value)) < 0.01 ? format(datum.value, 'd') : ''", "tickSize": {"condition": {"test": "abs(datum.value - round(datum.value)) < 0.01", "value": 6}, "value": 3}}},
                "y": {"datum": 590, "type": "quantitative", "axis": null}, "text": {"value": "T = 10 K"}}
            },
            {
              "data": {"values": [{}]},
              "mark": {"type": "text", "fontSize": 13.5, "fontWeight": "bold", "color": "#1a6fc4", "font": "'DejaVu Sans Condensed', sans-serif"},
              "encoding": {
                "x": {"datum": 10.97, "type": "quantitative", "scale": {"domain": [1.93, 13.04], "nice": false, "zero": false},
                  "axis": {"title": "Self-field corrected B (T)", "values": [2,2.2,2.4,2.6,2.8,3,3.2,3.4,3.6,3.8,4,4.2,4.4,4.6,4.8,5,5.2,5.4,5.6,5.8,6,6.2,6.4,6.6,6.8,7,7.2,7.4,7.6,7.8,8,8.2,8.4,8.6,8.8,9,9.2,9.4,9.6,9.8,10,10.2,10.4,10.6,10.8,11,11.2,11.4,11.6,11.8,12,12.2,12.4,12.6,12.8,13], "labelExpr": "abs(datum.value - round(datum.value)) < 0.01 ? format(datum.value, 'd') : ''", "tickSize": {"condition": {"test": "abs(datum.value - round(datum.value)) < 0.01", "value": 6}, "value": 3}}},
                "y": {"datum": 508, "type": "quantitative", "axis": null}, "text": {"value": "OST-RRP®"}}
            },
            {
              "data": {"values": [{}]},
              "mark": {"type": "text", "fontSize": 13.5, "fontWeight": "bold", "color": "#1a6fc4", "font": "'DejaVu Sans Condensed', sans-serif"},
              "encoding": {
                "x": {"datum": 10.97, "type": "quantitative", "scale": {"domain": [1.93, 13.04], "nice": false, "zero": false},
                  "axis": {"title": "Self-field corrected B (T)", "values": [2,2.2,2.4,2.6,2.8,3,3.2,3.4,3.6,3.8,4,4.2,4.4,4.6,4.8,5,5.2,5.4,5.6,5.8,6,6.2,6.4,6.6,6.8,7,7.2,7.4,7.6,7.8,8,8.2,8.4,8.6,8.8,9,9.2,9.4,9.6,9.8,10,10.2,10.4,10.6,10.8,11,11.2,11.4,11.6,11.8,12,12.2,12.4,12.6,12.8,13], "labelExpr": "abs(datum.value - round(datum.value)) < 0.01 ? format(datum.value, 'd') : ''", "tickSize": {"condition": {"test": "abs(datum.value - round(datum.value)) < 0.01", "value": 6}, "value": 3}}},
                "y": {"datum": 458, "type": "quantitative", "axis": null}, "text": {"value": "Self-field corrected"}}
            }
          ]
        }
      ]
    }
  ],
  "config": {
    "font": "'DejaVu Sans Condensed', sans-serif",
    "view": {"stroke": "#666666", "strokeWidth": 1.3},
    "axis": {
      "grid": false, "domainColor": "#666666", "tickColor": "#666666", "domainWidth": 1.3,
      "labelFont": "'DejaVu Sans Condensed', sans-serif", "labelFontSize": 15, "labelFontWeight": "bold", "labelColor": "#111111", "labelPadding": 1,
      "labelOverlap": false, "labelFlush": false, "labelBound": false,
      "titleFont": "'Liberation Sans', sans-serif", "titleFontWeight": "bold", "titleColor": "#111111"
    },
    "axisX": {"titleFontSize": 14, "titlePadding": 16, "labelPadding": 5},
    "axisY": {"titleFontSize": 18, "titlePadding": 10},
    "legend": {
      "direction": "horizontal", "columns": 4,
      "titleOrient": "left", "titleFont": "'Liberation Sans', sans-serif", "titleFontSize": 15, "titleFontWeight": "normal", "titleColor": "#111111", "titlePadding": 6,
      "labelFont": "'DejaVu Sans Condensed', sans-serif", "labelFontSize": 17, "labelColor": "#111111", "labelAlign": "right", "labelOffset": 59,
      "symbolOffset": 12, "symbolSize": 36, "symbolStrokeWidth": 1, "columnPadding": 5, "rowPadding": 3
    }
  }
}
